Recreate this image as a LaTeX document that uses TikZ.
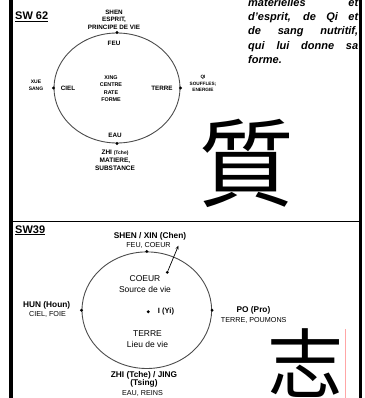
\documentclass[tikz,border=0pt]{standalone}
\usepackage{fontspec}
\setmainfont{Liberation Sans}
\newfontfamily\cjkfont{Noto Sans CJK TC}
\usetikzlibrary{shapes.geometric,arrows.meta}
\newcommand\fsz[2]{\fontsize{#1}{#2}\selectfont}
\begin{document}
\begin{tikzpicture}[x=1pt,y=-1pt,
  ring/.style={draw=black!70, line width=0.9pt, ellipse, inner sep=0pt},
  dot/.style={circle, fill=black, inner sep=0pt, minimum size=3.2pt},
  capb/.style={inner sep=0pt, align=center, font=\bfseries\fsz{6.3}{7.7}},
  smb/.style={inner sep=0pt, align=center, font=\bfseries\fsz{5.4}{7.6}},
  big/.style={inner sep=0pt, align=center, font=\bfseries\fsz{8.3}{8.3}},
  reg/.style={inner sep=0pt, align=center, font=\fsz{7.2}{8.5}},
  mid/.style={inner sep=0pt, align=center, font=\fsz{8.5}{10.5}},
  title/.style={inner sep=0pt, anchor=base west, font=\bfseries\fsz{11}{11}},
  para/.style={inner sep=0pt, anchor=base west, font=\bfseries\itshape\fsz{11}{11}},
  border/.style={line width=3.5pt},
]
\useasboundingbox (0,0) rectangle (364,398);
\clip (0,0) rectangle (364,398);

% frame
\coordinate (bl1) at (11,0);
\coordinate (bl2) at (11,398);
\coordinate (br1) at (360.5,0);
\coordinate (br2) at (360.5,398);
\coordinate (h1) at (11,221.5);
\coordinate (h2) at (360.5,221.5);
\draw[border] (bl1) -- (bl2);
\draw[border] (br1) -- (br2);
\draw[line width=1pt] (h1) -- (h2);

% ---------- panel 1 ----------
\node[title] (sw62) at (15,20) {\underline{SW 62}};
\node[ring, minimum width=126pt, minimum height=110pt] (c1) at (117,88) {};
\node[dot] (p1n) at (c1.north) {};
\node[dot] (p1s) at (c1.south) {};
\node[dot] (p1w) at (c1.west) {};
\node[dot] (p1e) at (c1.east) {};

\node[capb] (shen1) at (114,19.6) {SHEN\\ESPRIT,\\PRINCIPE DE VIE};
\node[capb] (feu1) at (114,43) {FEU};
\node[smb] (xing) at (111,88.6) {XING\\CENTRE\\RATE\\FORME};
\node[smb, font=\bfseries\fsz{5}{7}] (xue) at (36,85.5) {XUE\\SANG};
\node[capb] (ciel1) at (68,88.3) {CIEL};
\node[capb] (terre1) at (162,88.3) {TERRE};
\node[smb, font=\bfseries\fsz{4.7}{6.6}] (qi) at (203,83.6) {QI\\SOUFFLES;\\ENERGIE};
\node[capb] (eau1) at (115,135.5) {EAU};
\node[capb, font=\bfseries\fsz{6.5}{7.8}] (zhi1) at (115,160) {ZHI {\fsz{5}{7.8}(Tche)}\\MATIERE,\\SUBSTANCE};

% paragraph
\node[para] (l1) at (248,6.5) {\makebox[110pt][s]{matérielles et}};
\node[para] (l2) at (248,20.7) {\makebox[110pt][s]{d'esprit, de Qi et}};
\node[para] (l3) at (248,34.9) {\makebox[110pt][s]{de sang nutritif,}};
\node[para] (l4) at (248,49.1) {\makebox[110pt][s]{qui lui donne sa}};
\node[para] (l5) at (248,63.3) {forme.};

% character
\node[inner sep=0pt, anchor=base, font=\cjkfont\fsz{96}{96}] (zhichar) at (246,199) {質};

% ---------- panel 2 ----------
\node[title] (sw39) at (15,233) {\underline{SW39}};
\node[ring, minimum width=129.6pt, minimum height=116.6pt] (c2) at (146.8,310.2) {};
\node[dot] (p2n) at (c2.north) {};
\node[dot] (p2w) at (c2.west) {};
\node[dot] (p2e) at (c2.east) {};
\node[dot] (p2c) at (148.3,311.7) {};
\node[dot] (p2a) at (167.3,272.3) {};

\node[big] (shen2) at (150,236.8) {SHEN / XIN (Chen)};
\node[reg] (feu2) at (148.5,245.3) {FEU, COEUR};
\coordinate (arrtip) at (178.5,245.5);
\draw[-{Stealth[length=4pt,width=3.2pt]}, line width=0.7pt] (p2a) -- (arrtip);

\node[mid] (coeur) at (145,284) {COEUR\\Source de vie};
\node[big] (hun) at (46.7,305.5) {HUN (Houn)};
\node[reg] (hunsub) at (47.5,314.8) {CIEL, FOIE};
\node[big, font=\bfseries\fsz{7.6}{8}] (yi) at (166,311.7) {I (Yi)};
\node[big] (po) at (253.5,310.3) {PO (Pro)};
\node[reg] (posub) at (253.7,320.7) {TERRE, POUMONS};
\node[mid] (terre2) at (147.5,339.3) {TERRE\\Lieu de vie};
\node[big, font=\bfseries\fsz{8.3}{8.2}] (zhi2) at (144,379.5) {ZHI (Tche) / JING\\(Tsing)};
\node[reg] (eau2) at (142.5,393) {EAU, REINS};

\node[inner sep=0pt, anchor=base, font=\cjkfont\fsz{76}{76}] (zhichar2) at (305.5,392) {\raisebox{0pt}[\height][0pt]{志}};
\coordinate (pk1) at (345,329);
\coordinate (pk2) at (345,398);
\draw[red!35, line width=0.5pt] (pk1) -- (pk2);
\end{tikzpicture}
\end{document}
